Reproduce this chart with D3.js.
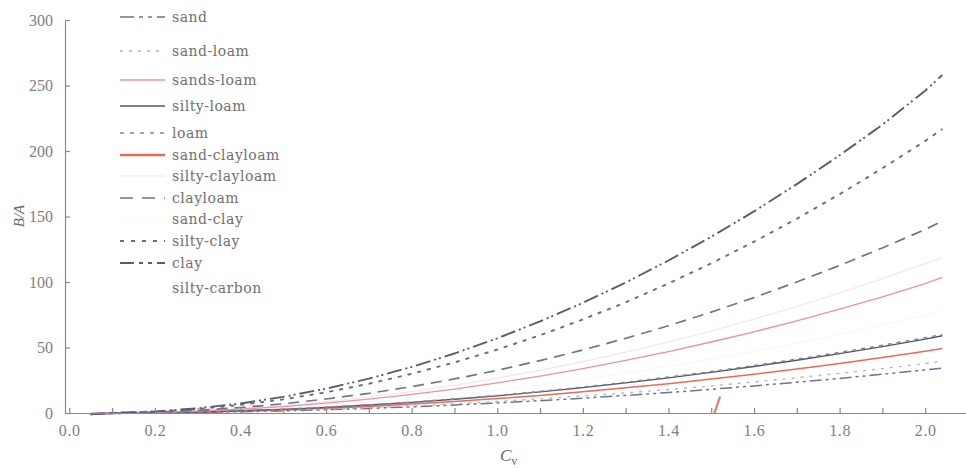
<!DOCTYPE html>
<html>
<head>
<meta charset="utf-8">
<script src="https://cdn.jsdelivr.net/npm/d3@7"></script>
<style>
html,body{margin:0;padding:0;background:#fff;}
svg{display:block;}
</style>
</head>
<body>
<svg id="chart" width="966" height="468"></svg>
<script>
// ---- data ----
const cv = [0.05,0.1,0.2,0.3,0.4,0.5,0.6,0.7,0.8,0.9,1.0,1.1,1.2,1.3,1.4,1.5,1.6,1.7,1.8,1.9,2.0,2.04];

const sand          = [-0.5,0,0.2,0.5,1.0,1.6,2.5,3.5,4.7,6.1,7.7,9.4,11.3,13.4,15.6,18.1,20.7,23.5,26.4,29.6,32.9,34.3];
const sandLoam      = [-0.5,0,0.2,0.5,1.1,1.9,2.9,4.0,5.4,7.0,8.8,10.8,13.0,15.4,17.9,20.7,23.7,26.9,30.3,33.9,37.7,39.5];
const sandsLoam     = [-0.5,0,0.5,1.4,2.9,4.9,7.5,10.6,14.2,18.3,23.0,28.2,33.9,40.1,46.9,54.2,62.0,70.4,79.3,88.7,98.8,103.5];
const siltyLoam     = [-1,-0.5,0.3,0.8,1.7,2.8,4.3,6.1,8.1,10.5,13.1,16.1,19.4,23.0,26.8,31.0,35.5,40.3,45.3,50.7,56.4,59.0];
const loam          = [-1,-0.5,0.3,0.8,1.7,2.9,4.4,6.2,8.3,10.7,13.4,16.4,19.8,23.4,27.4,31.6,36.2,41.1,46.3,51.7,57.5,60.0];
const sandClayloam  = [-0.5,0,0.2,0.7,1.4,2.4,3.6,5.0,6.8,8.7,11.0,13.4,16.2,19.2,22.4,25.9,29.6,33.6,37.8,42.3,47.1,49.3];
const siltyClayloam = [-0.5,0,0.5,1.7,3.4,5.7,8.7,12.2,16.4,21.2,26.6,32.5,39.2,46.4,54.2,62.6,71.7,81.3,91.6,102.5,114.0,118.7];
const clayloam      = [-0.5,0,0.7,2.0,4.2,7.0,10.7,15.0,20.1,26.0,32.6,40.0,48.1,57.0,66.6,77.0,88.1,100.0,112.6,126.0,140.1,146.5];
const sandClay      = [-0.5,0,0.4,1.1,2.2,3.8,5.7,8.0,10.7,13.9,17.4,21.3,25.7,30.4,35.5,41.1,47.0,53.3,60.1,67.2,74.7,77.9];
const siltyClay     = [-1,0.1,1.0,3.0,6.2,10.4,15.8,22.3,29.9,38.6,48.4,59.3,71.4,84.5,98.8,114.2,130.7,148.3,167.0,186.8,207.7,216.8];
const clay          = [-1,0,1.2,3.6,7.3,12.3,18.6,26.2,35.2,45.4,57.0,69.9,84.1,99.6,116.4,134.5,153.9,174.7,196.7,220.1,246.0,258.0];
const siltyCarbon   = [-0.5,0,0.3,0.9,1.9,3.2,4.8,6.8,9.1,11.8,14.8,18.1,21.8,25.8,30.2,34.9,40.0,45.3,51.1,57.1,63.5,66.2];

// small red stroke near Cv = 1.51
const markX = [1.508, 1.52];
const markY = [0.5, 12];

const seriesNames = ["sand","sand-loam","sands-loam","silty-loam","loam","sand-clayloam",
  "silty-clayloam","clayloam","sand-clay","silty-clay","clay","silty-carbon"];
const seriesValues = [sand,sandLoam,sandsLoam,siltyLoam,loam,sandClayloam,
  siltyClayloam,clayloam,sandClay,siltyClay,clay,siltyCarbon];

const xTicks = [0.0,0.2,0.4,0.6,0.8,1.0,1.2,1.4,1.6,1.8,2.0];
const xMinorTicks = [0.1,0.3,0.5,0.7,0.9,1.1,1.3,1.5,1.7,1.9,2.1];
const yTicks = [0,50,100,150,200,250,300];

// ---- styles ----
const styles = {
  "sand":           {color:"#6a7494", width:1.5, dash:"12,4,3,4,3,4", legendDash:"14,5,4,5,4,5"},
  "sand-loam":      {color:"#b0b4c8", width:1.4, dash:"3,6",           legendDash:"3,6"},
  "sands-loam":     {color:"#f0909c", width:1.3, dash:null,            legendDash:null},
  "silty-loam":     {color:"#50546a", width:1.4, dash:null,            legendDash:null},
  "loam":           {color:"#80869a", width:1.5, dash:"4,5",           legendDash:"4,6"},
  "sand-clayloam":  {color:"#ea6a56", width:1.5, dash:null,            legendDash:null, legendWidth:2.4},
  "silty-clayloam": {color:"#f5e4e6", width:1.2, dash:null,            legendDash:null},
  "clayloam":       {color:"#6e7690", width:1.7, dash:"11,7",          legendDash:"13,9"},
  "sand-clay":      {color:"#f8f6f9", width:1.0, dash:null,            legendDash:null},
  "silty-clay":     {color:"#686d80", width:1.9, dash:"4,6",           legendDash:"4,7"},
  "clay":           {color:"#565d74", width:1.9, dash:"15,4,2,3,2,4",  legendDash:"14,5,4,5,4,5"},
  "silty-carbon":   {color:"#ffffff", width:1.0, dash:null,            legendDash:null}
};

const svg = d3.select("#chart");

const x = d3.scaleLinear().domain([-0.01, 2.1]).range([65, 968]);
const y = d3.scaleLinear().domain([0, 300]).range([413, 20]);

const axisColor = "#8a8a8a";
const tickFont = "'Liberation Serif','Times New Roman',serif";

// ---- lines ----
const line = d3.line().x(d => x(d[0])).y(d => y(d[1]));
const drawOrder = ["silty-carbon","sand-clay","silty-clayloam","sand","sand-loam","sand-clayloam",
  "silty-loam","loam","sands-loam","clayloam","silty-clay","clay"];
const gLines = svg.append("g");
drawOrder.forEach(name => {
  const i = seriesNames.indexOf(name);
  const st = styles[name];
  const pts = cv.map((c, k) => [c, seriesValues[i][k]]);
  gLines.append("path")
    .attr("d", line(pts))
    .attr("fill", "none")
    .attr("stroke", st.color)
    .attr("stroke-width", st.width)
    .attr("stroke-dasharray", st.dash)
    .attr("stroke-linejoin", "round");
});
gLines.append("path")
  .attr("d", line(markX.map((v, k) => [v, markY[k]])))
  .attr("fill", "none").attr("stroke", "#ec7a7a").attr("stroke-width", 2.2).attr("stroke-linecap","round");

// ---- axes ----
const xAxis = d3.axisBottom(x).tickValues(xTicks).tickSizeInner(-5).tickSizeOuter(0).tickPadding(12)
  .tickFormat(d3.format(".1f"));
const gx = svg.append("g").attr("transform", `translate(0,${y(0)})`).call(xAxis);
gx.select(".domain").attr("stroke", axisColor).attr("stroke-width", 1.2);
gx.selectAll(".tick line").attr("stroke", axisColor).attr("stroke-width", 1.2);
gx.selectAll("text").attr("fill", "#808080").style("font-family", tickFont).style("font-size", "16px")
  .style("letter-spacing", "0.6px");
svg.append("g").attr("transform", `translate(0,${y(0)})`)
  .call(d3.axisBottom(x).tickValues(xMinorTicks).tickSizeInner(-5).tickSizeOuter(0).tickFormat(""))
  .call(g => g.select(".domain").remove())
  .selectAll(".tick line").attr("stroke", axisColor).attr("stroke-width", 1.2);

const yAxis = d3.axisLeft(y).tickValues(yTicks).tickSizeInner(-5).tickSizeOuter(0).tickPadding(12);
const gy = svg.append("g").attr("transform", `translate(65,0)`).call(yAxis);
gy.select(".domain").attr("stroke", axisColor).attr("stroke-width", 1.2);
gy.selectAll(".tick line").attr("stroke", axisColor).attr("stroke-width", 1.2);
gy.selectAll("text").attr("fill", "#808080").style("font-family", tickFont).style("font-size", "16px");

// axis titles
svg.append("text")
  .attr("transform", "translate(24,216) rotate(-90)")
  .attr("text-anchor", "middle")
  .style("font-family", tickFont).style("font-size", "15px").style("font-style", "italic")
  .attr("fill", "#666").text("B/A");
const xt = svg.append("text").attr("x", 500).attr("y", 461)
  .style("font-family", tickFont).style("font-size", "17px").attr("fill", "#666");
xt.append("tspan").style("font-style", "italic").text("C");
xt.append("tspan").attr("dy", 4).style("font-size", "12px").text("v");

// ---- legend ----
const legendRows = [17, 51, 80, 106, 133, 155, 176, 198, 219, 241, 263, 288];
const gLeg = svg.append("g");
seriesNames.forEach((name, i) => {
  const st = styles[name];
  const yy = legendRows[i];
  if (name !== "silty-carbon") {
    gLeg.append("line")
      .attr("x1", 120).attr("x2", 165).attr("y1", yy).attr("y2", yy)
      .attr("stroke", st.color)
      .attr("stroke-width", st.legendWidth || st.width)
      .attr("stroke-dasharray", st.legendDash);
  }
  gLeg.append("text")
    .attr("x", 172).attr("y", yy).attr("dy", "0.35em")
    .style("font-family", "'DejaVu Serif',serif").style("font-size", "14px")
    .style("letter-spacing", "0.5px")
    .attr("fill", "#707070").text(name);
});
</script>
</body>
</html>
